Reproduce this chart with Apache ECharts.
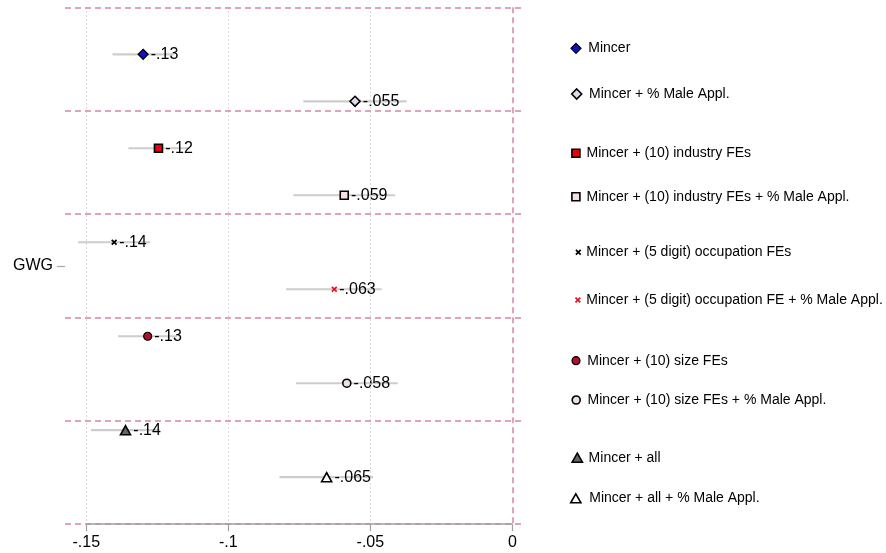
<!DOCTYPE html>
<html>
<head>
<meta charset="utf-8">
<script src="https://cdn.jsdelivr.net/npm/echarts@6/dist/echarts.min.js"></script>
<style>html,body{margin:0;padding:0;background:#fff;}#c{width:886px;height:553px;}</style>
</head>
<body>
<div id="c"></div>
<script>
// ---- data ----
const models = [
  'Mincer',
  'Mincer + % Male Appl.',
  'Mincer + (10) industry FEs',
  'Mincer + (10) industry FEs + % Male Appl.',
  'Mincer + (5 digit) occupation FEs',
  'Mincer + (5 digit) occupation FE + % Male Appl.',
  'Mincer + (10) size FEs',
  'Mincer + (10) size FEs + % Male Appl.',
  'Mincer + all',
  'Mincer + all + % Male Appl.'
];
const coef   = [-0.1300, -0.0554, -0.1246, -0.0592, -0.1402, -0.0627, -0.1284, -0.0583, -0.1362, -0.0654];
const ciLow  = [-0.1408, -0.0736, -0.1352, -0.0771, -0.1529, -0.0797, -0.1388, -0.0762, -0.1484, -0.0820];
const ciHigh = [-0.1192, -0.0372, -0.1139, -0.0413, -0.1275, -0.0460, -0.1181, -0.0404, -0.1240, -0.0490];
const coefLabels = ['-.13', '-.055', '-.12', '-.059', '-.14', '-.063', '-.13', '-.058', '-.14', '-.065'];
const xTicks = [-0.15, -0.1, -0.05, 0];
const xTickLabels = ['-.15', '-.1', '-.05', '0'];
const yTickPos = [4.5];
const yTickLabels = ['GWG'];
const groupLines = [-1, 1.2, 3.4, 5.6, 7.8, 10];

// ---- styles ----
const P_DIAMOND = 'path://M5,0 L10,5 L5,10 L0,5 Z';
const P_SQUARE = 'path://M0,0 L10,0 L10,10 L0,10 Z';
const P_TRI = 'path://M5,0 L10,8.8 L0,8.8 Z';
const P_X = 'path://M2,0 L5,3 L8,0 L10,2 L7,5 L10,8 L8,10 L5,7 L2,10 L0,8 L3,5 L0,2 Z';
const markStyles = [
  {symbol: P_DIAMOND, size: [10, 10], fill: '#1010c8', border: '#000', bw: 1.2},
  {symbol: P_DIAMOND, size: [10, 10], fill: '#dcdcec', border: '#000', bw: 1.6},
  {symbol: P_SQUARE, size: [8, 8], fill: '#e8000b', border: '#000', bw: 1.6},
  {symbol: P_SQUARE, size: [8, 8], fill: '#f4e0e0', border: '#000', bw: 1.6},
  {symbol: P_X, size: [6, 6], fill: '#000', border: '#000', bw: 0},
  {symbol: P_X, size: [6, 6], fill: '#e8121c', border: '#e8121c', bw: 0},
  {symbol: 'circle', size: [8, 8], fill: '#b0102c', border: '#000', bw: 1.2},
  {symbol: 'circle', size: [8, 8], fill: '#f0e0e6', border: '#000', bw: 1.6},
  {symbol: P_TRI, size: [10, 9], fill: '#666', border: '#000', bw: 1.6},
  {symbol: P_TRI, size: [10, 9], fill: '#fff', border: '#000', bw: 1.6}
];
const legendLayout = [
  {cx: 577.7, cy: 48.3, tx: 590},
  {cx: 578.3, cy: 94, tx: 590.7},
  {cx: 576.7, cy: 153.3, tx: 587.3},
  {cx: 576.7, cy: 196.7, tx: 587.3},
  {cx: 578.3, cy: 252.3, tx: 586},
  {cx: 578.3, cy: 300, tx: 586.7},
  {cx: 577.7, cy: 360.7, tx: 589},
  {cx: 577.7, cy: 400, tx: 589},
  {cx: 577.7, cy: 457.7, tx: 589},
  {cx: 578.3, cy: 498.3, tx: 591.7}
];
const PINK = '#d685aa';
const FONT = "'Liberation Sans', Arial, sans-serif";

const chart = echarts.init(document.getElementById('c'), null, {renderer: 'canvas'});

const ciData = models.map((m, i) => [ciLow[i], ciHigh[i], i]);

const series = [];
// frame: grid lines, group separators, axis line, and CI bars
series.push({
  type: 'custom',
  name: '__ci',
  z: 2,
  silent: true,
  renderItem: function (params, api) {
    const a = api.coord([api.value(0), api.value(2)]);
    const b = api.coord([api.value(1), api.value(2)]);
    return {type: 'line', shape: {x1: a[0], y1: a[1], x2: b[0], y2: b[1]},
      style: {stroke: '#cdcdcd', lineWidth: 2.2}};
  },
  encode: {x: [0, 1], y: 2},
  data: ciData,
  markLine: {
    silent: true, symbol: 'none', animation: false,
    label: {show: false},
    data: [].concat(
      xTicks.slice(0, 3).map(v => ({xAxis: v, lineStyle: {color: '#cfcfcf', type: [1.5, 2.5], width: 1}})),
      groupLines.map(v => ({yAxis: v, lineStyle: {color: PINK, type: [6, 4], width: 1.5}})),
      [{xAxis: 0, lineStyle: {color: PINK, type: [6, 4], width: 1.5}}],
      [[{coord: [xTicks[0], groupLines[groupLines.length - 1]], lineStyle: {color: '#a0a0a0', type: 'solid', width: 1.5}},
        {coord: [xTicks[xTicks.length - 1], groupLines[groupLines.length - 1]]}]]
    )
  }
});

models.forEach((m, i) => {
  const s = markStyles[i];
  series.push({
    type: 'scatter',
    name: m,
    z: 3,
    symbol: s.symbol,
    symbolSize: s.size,
    itemStyle: {color: s.fill, borderColor: s.border, borderWidth: s.bw, opacity: 1},
    label: {
      show: true, position: 'right', distance: 2,
      formatter: () => coefLabels[i],
      color: '#000', fontSize: 16, fontFamily: FONT
    },
    emphasis: {disabled: true},
    data: [[coef[i], i]]
  });
});

const legends = models.map((m, i) => {
  const L = legendLayout[i];
  const s = markStyles[i];
  const iw = Math.max(s.size[0], 2 * (L.tx - 5 - L.cx));
  const ih = s.size[1];
  return {
    data: [m],
    left: L.cx - iw / 2,
    top: L.cy - 8,
    orient: 'horizontal',
    padding: 0,
    itemWidth: iw,
    itemHeight: ih,
    itemGap: 0,
    selectedMode: false,
    symbolKeepAspect: true,
    itemStyle: {borderWidth: s.bw, borderColor: s.border},
    textStyle: {fontSize: 14, color: '#000', fontFamily: FONT, lineHeight: 16}
  };
});

chart.setOption({
  animation: false,
  backgroundColor: '#fff',
  textStyle: {fontFamily: FONT},
  grid: {left: 65, top: 7.3, right: 363, bottom: 28.8, containLabel: false, outerBoundsMode: 'none'},
  legend: legends,
  xAxis: {
    type: 'value',
    position: 'bottom',
    min: -0.1575, max: 0.00373,
    axisLine: {show: false, onZero: false},
    splitLine: {show: false},
    axisTick: {show: true, customValues: xTicks, length: 7, lineStyle: {color: '#a0a0a0', width: 1.2}},
    axisLabel: {
      show: true, customValues: xTicks, margin: 10,
      formatter: v => { const k = xTicks.findIndex(t => Math.abs(t - v) < 1e-9); return k >= 0 ? xTickLabels[k] : ''; },
      color: '#000', fontSize: 16, fontFamily: FONT
    }
  },
  yAxis: {
    type: 'value',
    position: 'left',
    inverse: true,
    min: groupLines[0], max: groupLines[groupLines.length - 1],
    axisLine: {show: false, onZero: false},
    splitLine: {show: false},
    axisTick: {show: true, customValues: yTickPos, length: 8, lineStyle: {color: '#a8a8a8', width: 1.2}},
    axisLabel: {
      show: true, customValues: yTickPos, margin: 12,
      formatter: v => { const k = yTickPos.findIndex(t => Math.abs(t - v) < 1e-9); return k >= 0 ? yTickLabels[k] : ''; },
      color: '#000', fontSize: 16, fontFamily: FONT
    }
  },
  series: series
});
</script>
</body>
</html>
